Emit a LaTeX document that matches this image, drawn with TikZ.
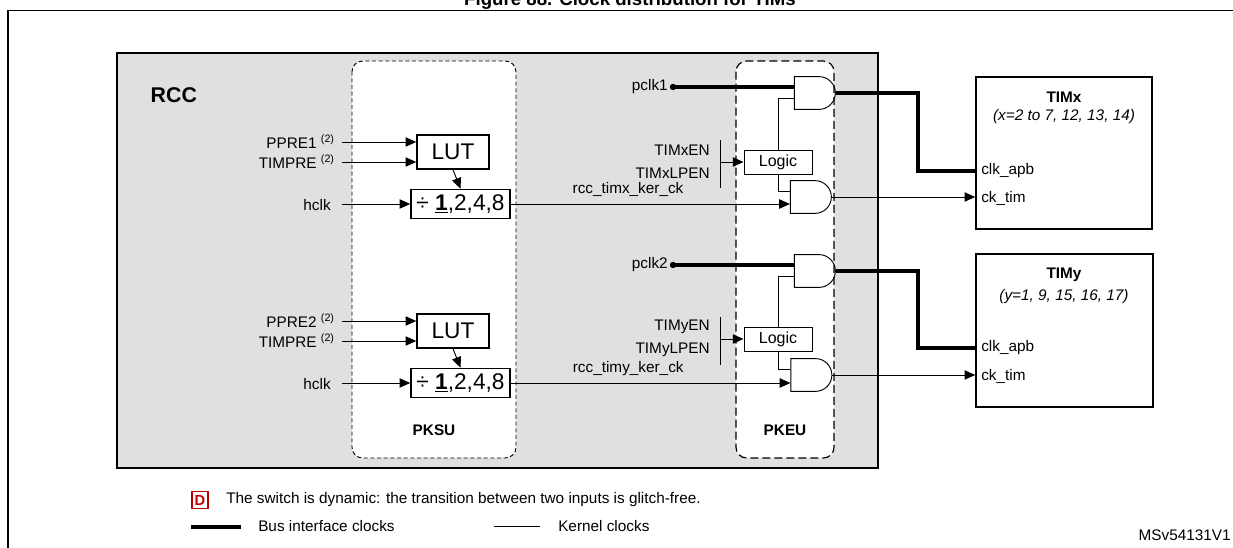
\documentclass[tikz,border=0pt]{standalone}
\usepackage{fontspec}
\setmainfont{Liberation Sans}
\usetikzlibrary{arrows.meta,shapes.gates.logic.US}
\begin{document}
\begin{tikzpicture}[x=0.75pt,y=-0.75pt,
  lbl/.style={font=\fontsize{11.5}{13}\selectfont,inner sep=0pt},
  blbl/.style={font=\bfseries\fontsize{11.5}{13}\selectfont,inner sep=0pt},
  box/.style={draw,line width=1.2pt,inner sep=0pt},
  thin/.style={line width=0.7pt},
  bus/.style={line width=3.5pt},
  arr/.style={thin,-{Triangle[length=8pt,width=7pt]}},
  gate/.style={and gate US,draw,thin,logic gate inputs=nn,minimum width=41*0.75pt,minimum height=32*0.75pt,inner sep=0pt,anchor=center},
  dsh/.style={draw,thin,dash pattern=on 3pt off 2pt,rounded corners=8pt},
  dshl/.style={draw,line width=0.9pt,dash pattern=on 6pt off 3pt,rounded corners=8pt}]
\useasboundingbox (0,0) rectangle (1233,548);
\clip (0,0) rectangle (1233,548);
\node[font=\bfseries\fontsize{14}{16}\selectfont,anchor=base] (title) at (630,6) {Figure 88. Clock distribution for TIMs};
\draw[line width=1.2pt] (8,548) -- (8,10.5) -- (1233,10.5);
% RCC
\draw[line width=1.5pt,fill=black!12] (117,53) rectangle (878,468);
\node[anchor=west,font=\bfseries\fontsize{16}{18}\selectfont] (rcc) at (146,95) {RCC};
\filldraw[dsh,fill=white] (352,61) rectangle (516,458);
\filldraw[dshl,fill=white] (736,61) rectangle (834,458);
\node[blbl] (pksu) at (434,430) {PKSU};
\node[blbl] (pkeu) at (785,430) {PKEU};
\foreach \g/\dy/\n in {1/0/1,2/179/2}{
  \node[lbl,anchor=east] (pp\g) at (335,142+\dy) {PPRE\n\ \textsuperscript{(2)}};
  \node[lbl,anchor=east] (tp\g) at (335,162+\dy) {TIMPRE\ \textsuperscript{(2)}};
  \node[lbl,anchor=east] (hc\g) at (331,205+\dy) {hclk};
  \node[box,minimum width=72*0.75pt,minimum height=34*0.75pt,font=\fontsize{17}{19}\selectfont] (lut\g) at (453,152+\dy) {LUT};
  \node[box,minimum width=99*0.75pt,minimum height=29*0.75pt,font=\fontsize{17}{19}\selectfont] (div\g) at (460.5,204+\dy) {÷ \underline{\textbf{1}},2,4,8};
  \coordinate (ppa\g) at (342,142+\dy);
  \coordinate (tpa\g) at (342,162+\dy);
  \coordinate (hca\g) at (342,204+\dy);
  \draw[arr] (ppa\g) -- (ppa\g -| lut\g.west);
  \draw[arr] (tpa\g) -- (tpa\g -| lut\g.west);
  \draw[arr] (hca\g) -- (div\g.west);
  \draw[arr] (lut\g.south) -- (div\g.north);
}
% gates
\node[gate] (g1) at (813.5,93) {};
\node[gate] (g2) at (809.5,197) {};
\node[gate] (g3) at (813.5,271) {};
\node[gate] (g4) at (810,375) {};
\node[box,thin,minimum width=68*0.75pt,minimum height=24*0.75pt,font=\fontsize{12}{14}\selectfont] (lg1) at (778,162) {Logic};
\node[box,thin,minimum width=68*0.75pt,minimum height=24*0.75pt,font=\fontsize{12}{14}\selectfont] (lg2) at (778,339) {Logic};
% timers
\node[box,minimum width=176*0.75pt,minimum height=152*0.75pt] (tx) at (1064,153) {};
\node[box,minimum width=177*0.75pt,minimum height=153*0.75pt] (ty) at (1064.5,330.5) {};
\node[blbl] (txt) at (1064,97) {TIMx};
\node[lbl,font=\itshape\fontsize{11.5}{13}\selectfont] (txs) at (1064,117) {(x=2 to 7, 12, 13, 14)};
\node[blbl] (tyt) at (1064,275) {TIMy};
\node[lbl,font=\itshape\fontsize{11.5}{13}\selectfont] (tys) at (1064,297) {(y=1, 9, 15, 16, 17)};
\node[lbl,anchor=west] (txa) at (981,171) {clk\_apb};
\node[lbl,anchor=west] (txk) at (981,198) {ck\_tim};
\node[lbl,anchor=west] (tya) at (981,348) {clk\_apb};
\node[lbl,anchor=west] (tyk) at (981,376) {ck\_tim};
% clocks
\node[lbl,anchor=east] (pc1) at (668,87) {pclk1};
\node[lbl,anchor=east] (pc2) at (668,265) {pclk2};
\fill (pc1.east) ++(5,0) circle (3.2) coordinate (d1);
\fill (pc2.east) ++(5,0) circle (3.2) coordinate (d2);
\draw[bus] (d1) -- (d1 -| g1.west);
\draw[bus] (d2) -- (d2 -| g3.west);
\draw[bus] (g1.output) -- (918,93) -- (918,171) -- (tx.west |- 0,171);
\draw[bus] (g3.output) -- (918,271) -- (918,348) -- (ty.west |- 0,348);
\draw[arr] (g2.output) -- (tx.west |- g2.output);
\draw[arr] (g4.output) -- (ty.west |- g4.output);
\draw[thin] (lg1.north) |- (g1.input 2);
\draw[thin] (lg1.south) |- (g2.input 1);
\draw[thin] (lg2.north) |- (g3.input 2);
\draw[thin] (lg2.south) |- (g4.input 1);
\draw[arr] (div1.east) -- (div1.east -| g2.west) node[lbl,pos=0.42,above=5pt] (k1) {rcc\_timx\_ker\_ck};
\draw[arr] (div2.east) -- (div2.east -| g4.west) node[lbl,pos=0.42,above=5pt] (k2) {rcc\_timy\_ker\_ck};
\node[lbl,anchor=east] (en1) at (710,150) {TIMxEN};
\node[lbl,anchor=east] (lp1) at (710,173) {TIMxLPEN};
\node[lbl,anchor=east] (en2) at (710,327) {TIMyEN};
\node[lbl,anchor=east] (lp2) at (710,350) {TIMyLPEN};
\draw[thin] (720,140) -- (720,188);
\draw[thin] (720,317) -- (720,365);
\coordinate (b1) at (720,162);
\coordinate (b2) at (720,339);
\draw[arr] (b1) -- (lg1.west);
\draw[arr] (b2) -- (lg2.west);
% legend
\node[draw=red!75!black,line width=1pt,text=red!75!black,font=\bfseries\fontsize{11}{12}\selectfont,minimum width=16*0.75pt,minimum height=17*0.75pt,inner sep=0pt] (dd) at (200,500) {D};
\node[lbl,anchor=west] (dtxt) at (226,500) {The switch is dynamic: the transition between two inputs is glitch-free.};
\coordinate (l1a) at (191,527); \coordinate (l1b) at (241,527);
\draw[bus] (l1a) -- (l1b);
\node[lbl,anchor=west] (ltx1) at (258,526) {Bus interface clocks};
\coordinate (l2a) at (494,526); \coordinate (l2b) at (540,526);
\draw[thin] (l2a) -- (l2b);
\node[lbl,anchor=west] (ltx2) at (558,526) {Kernel clocks};
\node[lbl,anchor=east] (ms) at (1231,535) {MSv54131V1};
\end{tikzpicture}
\end{document}
